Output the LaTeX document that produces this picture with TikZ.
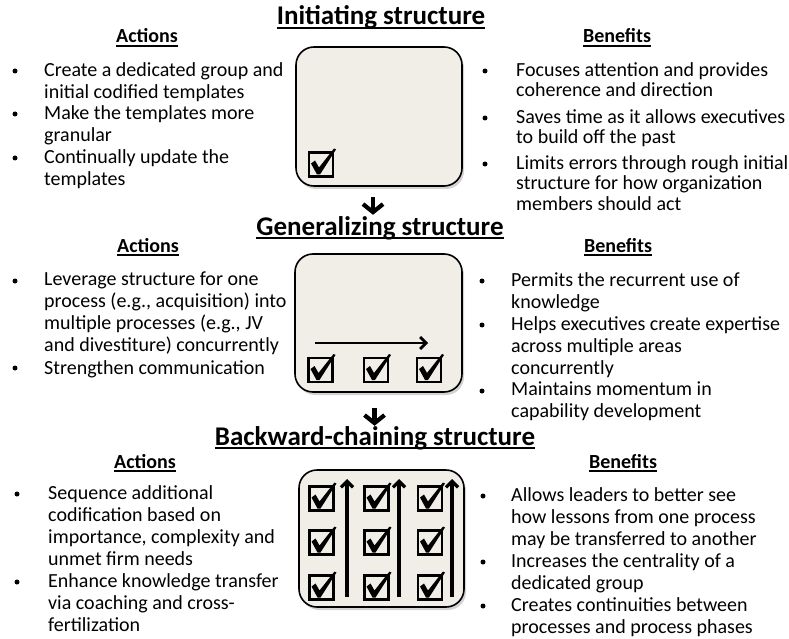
\documentclass[tikz,border=0pt]{standalone}
\usepackage{fontspec}
\setmainfont{Carlito}
\usepackage{tikz}
\usetikzlibrary{arrows.meta, positioning, shadows}

\definecolor{paper}{RGB}{240,238,231}

% underline that cuts through descenders: depth, thickness, text
\newcommand\ulin[3]{\setbox0\hbox{#3}\rlap{\rule[-#1]{\wd0}{#2}}\box0}

\tikzset{
  ttl/.style={anchor=base, inner sep=0pt, font=\fontsize{27}{30}\selectfont\bfseries},
  hdr/.style={anchor=base, inner sep=0pt, font=\fontsize{20}{24}\selectfont\bfseries},
  item/.style={anchor=north west, inner sep=0pt, yshift=8pt, align=left,
    font=\fontsize{20}{22}\selectfont, execute at begin node=\strut},
  bul/.style={circle, fill=black, inner sep=0pt, minimum size=5pt},
  panel/.style={draw=black, line width=1.6pt, fill=paper, rounded corners=18pt,
    drop shadow={shadow xshift=2pt, shadow yshift=-3pt, opacity=0.35}},
  dn/.style={line width=4.2pt, -{Straight Barb[length=8pt, width=20pt]}},
  flow/.style={line width=2.8pt, -{Straight Barb[length=6pt, width=12pt]}},
  chk/.pic={
    \draw[line width=2.5pt] (-12,-12) rectangle (12,12);
    \fill (-10,-1) -- (-6,-4) -- (-2,3) -- (13,-16) -- (15,-15) -- (-1,10) -- (-4,10) -- cycle;
  }
}

\begin{document}
\begin{tikzpicture}[>=Latex, x=1pt, y=-1pt]
    \useasboundingbox (0,0) rectangle (789,639);

    % Initiating structure
    \node[ttl] (t1) at (381,25) {\ulin{4.2pt}{2pt}{Initiating structure}};
    \node[hdr] (h1a) at (147,43) {\ulin{3.6pt}{1.5pt}{Actions}};
    \node[hdr] (h1b) at (617,43) {\ulin{3.6pt}{1.5pt}{Benefits}};

    \node[panel, minimum width=166pt, minimum height=139pt] (box1) at (379,116.5) {};
    \pic at (321,164.5) {chk};

    \node[bul] (d1a) at (15,71) {};
    \node[item] (a1a) at (44,70) {Create a dedicated group and\\initial codified templates};
    \node[bul] (d1b) at (15,114) {};
    \node[item] (a1b) at (44,113) {Make the templates more\\granular};
    \node[bul] (d1c) at (15,158) {};
    \node[item] (a1c) at (44,157) {Continually update the\\templates};

    \node[bul] (e1a) at (485,71) {};
    \node[item, font=\fontsize{20}{20.5}\selectfont] (b1a) at (516,70) {Focuses attention and provides\\coherence and direction};
    \node[bul] (e1b) at (485,118) {};
    \node[item, font=\fontsize{20}{20.5}\selectfont] (b1b) at (516,117) {Saves time as it allows executives\\to build off the past};
    \node[bul] (e1c) at (485,164) {};
    \node[item, font=\fontsize{20}{20.5}\selectfont] (b1c) at (516,163) {Limits errors through rough initial\\structure for how organization\\members should act};

    % Generalizing structure
    \node[ttl] (t2) at (380,235) {\ulin{4.2pt}{2pt}{Generalizing structure}};
    \node[hdr] (h2a) at (148,252) {\ulin{3.6pt}{1.5pt}{Actions}};
    \node[hdr] (h2b) at (618,252) {\ulin{3.6pt}{1.5pt}{Benefits}};

    \node[panel, minimum width=167pt, minimum height=138pt] (box2) at (378.5,323) {};
    \draw[flow] (315,343) -- (428,343);
    \foreach \x in {320.5,376,429}
      \pic at (\x,370) {chk};

    \node[bul] (d2a) at (15,281) {};
    \node[item] (a2a) at (44,280) {Leverage structure for one\\process (e.g., acquisition) into\\multiple processes (e.g., JV\\and divestiture) concurrently};
    \node[bul] (d2b) at (15,368) {};
    \node[item] (a2b) at (44,367) {Strengthen communication};

    \node[bul] (e2a) at (482,281) {};
    \node[item] (b2a) at (511,280) {Permits the recurrent use of\\knowledge};
    \node[bul] (e2b) at (482,325) {};
    \node[item] (b2b) at (511,324) {Helps executives create expertise\\across multiple areas\\concurrently};
    \node[bul] (e2c) at (482,391) {};
    \node[item] (b2c) at (511,390) {Maintains momentum in\\capability development};

    % Backward-chaining structure
    \node[ttl] (t3) at (375,445) {\ulin{4.2pt}{2pt}{Backward-chaining structure}};
    \node[hdr] (h3a) at (145,468) {\ulin{3.6pt}{1.5pt}{Actions}};
    \node[hdr] (h3b) at (623,468) {\ulin{3.6pt}{1.5pt}{Benefits}};

    \node[panel, minimum width=165pt, minimum height=137pt] (box3) at (381.5,538.5) {};
    \foreach \x/\u in {321.5/347,376.5/399,430/452} {
      \foreach \y in {498.5,542.5,587.5}
        \pic at (\x,\y) {chk};
      \draw[flow, line width=3.2pt] (\u,597) -- (\u,479);
    }

    \node[bul] (d3a) at (17,494) {};
    \node[item] (a3a) at (48,493) {Sequence additional\\codification based on\\importance, complexity and\\unmet firm needs};
    \node[bul] (d3b) at (17,582) {};
    \node[item] (a3b) at (48,581) {Enhance knowledge transfer\\via coaching and cross-\\fertilization};

    \node[bul] (e3a) at (483,496) {};
    \node[item] (b3a) at (511,495) {Allows leaders to better see\\how lessons from one process\\may be transferred to another};
    \node[bul] (e3b) at (483,562) {};
    \node[item] (b3b) at (511,561) {Increases the centrality of a\\dedicated group};
    \node[bul] (e3c) at (483,606) {};
    \node[item] (b3c) at (511,605) {Creates continuities between\\processes and process phases};

    % step arrows
    \draw[dn] (box1.south) ++(-6,10) -- ++(0,18);
    \draw[dn] (box2.south) ++(-4,15) -- ++(0,18);

  \end{tikzpicture}
\end{document}
